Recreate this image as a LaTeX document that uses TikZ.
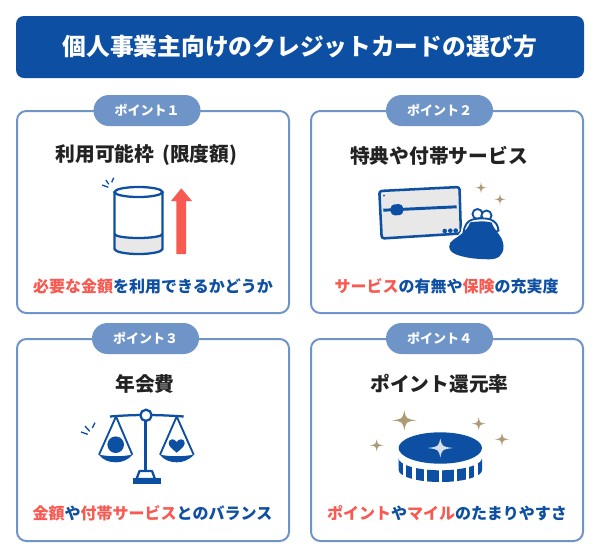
\documentclass[tikz,border=0pt]{standalone}
\usepackage{fontspec}
\setmainfont[BoldFont={Noto Sans CJK JP Black}]{Noto Sans CJK JP}
\definecolor{navy}{HTML}{0D4FA2}
\definecolor{frameblue}{HTML}{6F95C8}
\definecolor{redtext}{HTML}{F85A52}
\definecolor{tan}{HTML}{AE9A76}
\definecolor{panelgray}{HTML}{E8E8E8}
\definecolor{inkblack}{HTML}{222222}
\definecolor{palestar}{HTML}{D5E0EF}
\newcommand{\hl}[1]{\textcolor{redtext}{#1}}
\tikzset{%
    title box/.style={
      rectangle,
      fill=navy,
      rounded corners=6pt,
      minimum width=426pt,
      minimum height=46.5pt,
      text=white,
      font=\fontsize{17.8}{20}\selectfont\bfseries
    },
    card/.style={
      rectangle,
      draw=frameblue,
      fill=white,
      line width=1.5pt,
      rounded corners=7pt,
      minimum width=204pt,
      minimum height=151.5pt
    },
    pill/.style={
      rectangle,
      fill=frameblue,
      rounded corners=11.6pt,
      minimum width=80.25pt,
      minimum height=23.25pt,
      text=white,
      inner sep=0pt,
      font=\fontsize{9.75}{12}\selectfont\bfseries
    },
    heading/.style={
      inner sep=0pt,
      text=inkblack,
      font=\fontsize{14.8}{18}\selectfont\bfseries
    },
    lead/.style={
      inner sep=0pt,
      text=navy,
      font=\fontsize{12}{15}\selectfont\bfseries
    },
    icon line/.style={
      draw=navy,
      line width=1.7pt
    },
    tick mark/.style={
      draw=navy,
      line width=1pt
    },
    sparkle/.pic={
      \fill (1,0) .. controls (.14,.14) .. (0,1) .. controls (-.14,.14) .. (-1,0)
        .. controls (-.14,-.14) .. (0,-1) .. controls (.14,-.14) .. (1,0) -- cycle;
    }
  }
\begin{document}
\begin{tikzpicture}[x=0.75pt, y=-0.75pt]
      \useasboundingbox (0,0) rectangle (600,558);

      \node [title box] (title) at (300,47) {個人事業主向けのクレジットカードの選び方};

      \node [card] (card1) at (153,212) {};
      \node [card] (card2) at (447,212) {};
      \node [card] (card3) at (153,440) {};
      \node [card] (card4) at (447,440) {};

      \node [pill] (pill1) at (147,110.5) {ポイント１};
      \node [pill] (pill2) at (439.5,110.5) {ポイント２};
      \node [pill] (pill3) at (145.5,338.5) {ポイント３};
      \node [pill] (pill4) at (439.5,338.5) {ポイント４};

      \node [heading] (head1) at (146.5,155.5) {利用可能枠\hspace{0.4em}(限度額)};
      \node [heading] (head2) at (439,155.5) {特典や付帯サービス};
      \node [heading] (head3) at (145,383.5) {年会費};
      \node [heading] (head4) at (439.5,383.5) {ポイント還元率};

      \node [lead] (lead1) at (153,286) {\hl{必要な金額}を利用できるかどうか};
      \node [lead] (lead2) at (446.5,286) {\hl{サービス}の有無や\hl{保険}の充実度};
      \node [lead] (lead3) at (152.5,513) {\hl{金額}や\hl{付帯サービス}とのバランス};
      \node [lead] (lead4) at (447,513) {\hl{ポイント}や\hl{マイル}のたまりやすさ};

      % cylinder and arrow
      \fill [panelgray] (114.5,234) arc [start angle=180, end angle=0, x radius=24, y radius=4]
        -- (162.5,249) arc [start angle=0, end angle=180, x radius=24, y radius=5] -- cycle;
      \draw [icon line] (114.5,192) -- (114.5,249) arc [start angle=180, end angle=0, x radius=24, y radius=5] -- (162.5,192);
      \draw [icon line] (138.5,192) ellipse [x radius=24, y radius=5];
      \draw [icon line] (114.5,234) arc [start angle=180, end angle=0, x radius=24, y radius=4];
      \draw [tick mark] (102.3,185) -- (108.3,187.3);
      \draw [tick mark] (106,180) -- (108.7,184.3);
      \draw [tick mark] (113.7,177.7) -- (111.7,182.3);
      \fill [redtext] (176.3,254) -- (176.3,201) -- (171,201) -- (181.3,188.3) -- (192,201) -- (186,201) -- (186,254) -- cycle;

      % credit card
      \draw [icon line, fill=panelgray, rounded corners=2pt, line width=1.9pt] (379.3,191) -- (459.5,187) -- (460.9,233.5) -- (381.7,238.5) -- cycle;
      \draw [navy, line width=2.2pt] (383.3,210.2) -- (456.7,206.8);
      \fill [navy, rounded corners=3pt] (390.5,204.5) -- (403,204) -- (403.3,215) -- (390.8,215.5) -- cycle;
      \fill [navy] (384,195.7) circle [radius=1];
      \fill [navy] (444.7,231) circle [radius=2.3];
      \fill [navy] (450.3,230.7) circle [radius=2.3];
      \fill [navy] (455.7,230.6) circle [radius=2.3];

      % purse
      \draw [white, line width=3pt, fill=white] (463,232) .. controls (464,222) and (467,214) .. (472,210) -- (490,210) .. controls (496,220) and (499,226) .. (499,232) -- (503,246) -- (498,258) -- (450,250) -- cycle;
      \draw [icon line, fill=white, line width=1.4pt] (477.5,214) circle [radius=5];
      \draw [icon line, fill=white, line width=1.4pt] (486.5,215.5) circle [radius=5];
      \draw [icon line, fill=white, line width=1.4pt] (463.5,232.5) .. controls (464.5,225) and (467.5,221) .. (472.5,219.5) .. controls (479,218) and (486,218) .. (490.5,219.5) .. controls (495.5,221.5) and (498,225) .. (498.5,230.5) -- (480,240) -- cycle;
      \fill [navy] (470,222.5) .. controls (477,221) and (486,221) .. (491.7,222.5)
        .. controls (494,231) and (503.5,236) .. (503.5,246.5)
        .. controls (503.5,255) and (498,259.5) .. (489,259.3)
        .. controls (478,259) and (470,258.5) .. (461,256)
        .. controls (453,254) and (449.2,251) .. (449.2,246.5)
        .. controls (449.2,240) and (457,238.5) .. (462,233.5)
        .. controls (466,230) and (468.5,227) .. (470,222.5) -- cycle;
      \path [tan] (481,187.7) pic [scale=5.5] {sparkle};
      \path [tan] (500,199.3) pic [scale=5.5] {sparkle};

      % balance
      \draw [icon line] (110,416.5) .. controls (122,415.5) and (134,415) .. (145.7,415) .. controls (157,415) and (170,415.5) .. (183.7,416.5);
      \draw [navy, line width=2.4pt] (145.7,418) -- (145.7,471);
      \draw [icon line, fill=white] (146,415.3) circle [radius=5.6];
      \draw [icon line, fill=white, line join=round] (139.5,471) -- (152,471) -- (155,479) -- (136.5,479) -- cycle;
      \fill [navy] (133.3,478.3) rectangle (160.7,483.7);
      \draw [icon line, line width=1.4pt, line join=round] (99,454.7) -- (116,416.5) -- (132.3,454.7);
      \fill [navy] (98.5,454.5) .. controls (108,456.8) and (123,456.8) .. (132.8,454.5) .. controls (128,460) and (122,462.3) .. (115.7,462.3) .. controls (109,462.3) and (103,460) .. (98.5,454.5) -- cycle;
      \draw [icon line, line width=1.4pt, line join=round] (160,454.7) -- (176.7,416.5) -- (193.7,454.7);
      \fill [navy] (159.5,454.5) .. controls (169,456.8) and (184,456.8) .. (194.2,454.5) .. controls (189,460) and (183,462.3) .. (176.8,462.3) .. controls (170,462.3) and (164,460) .. (159.5,454.5) -- cycle;
      \fill [navy] (115.7,444.7) circle [radius=8.3];
      \fill [navy] (176.7,452.7) .. controls (172,448.5) and (168.7,446.5) .. (168.7,443) .. controls (168.7,438.5) and (174.7,438) .. (176.7,442) .. controls (178.7,438) and (184.7,438.5) .. (184.7,443) .. controls (184.7,446.5) and (181.4,448.5) .. (176.7,452.7) -- cycle;
      \draw [tick mark] (81,432) -- (87.7,434.3);
      \draw [tick mark] (85,426) -- (89.7,431.3);
      \draw [tick mark] (95,422.7) -- (92.3,428);

      % coin
      \fill [navy] (398.7,458.3) -- (398.7,470) arc [start angle=180, end angle=0, x radius=41.7, y radius=12]
        -- (482,458.3) arc [start angle=0, end angle=180, x radius=41.7, y radius=12] -- cycle;
      \foreach \gapx in {404.7,414,425.7,440.3,455.3,467.3,476}
        \draw [white, line width=2.4pt] (\gapx,456) -- (\gapx,484);
      \fill [navy] (440.3,448) ellipse [x radius=41.7, y radius=15.7];
      \path [palestar] (440.3,448) pic [xscale=12.8, yscale=9.6] {sparkle};
      \path [tan] (404.3,420.3) pic [xscale=12.3, yscale=10] {sparkle};
      \path [tan] (478.7,423.7) pic [xscale=7, yscale=6.5] {sparkle};
      \path [tan] (502,439.3) pic [xscale=7, yscale=6.5] {sparkle};
      \path [tan] (376.7,445.3) pic [xscale=7, yscale=6] {sparkle};

\end{tikzpicture}
\end{document}
